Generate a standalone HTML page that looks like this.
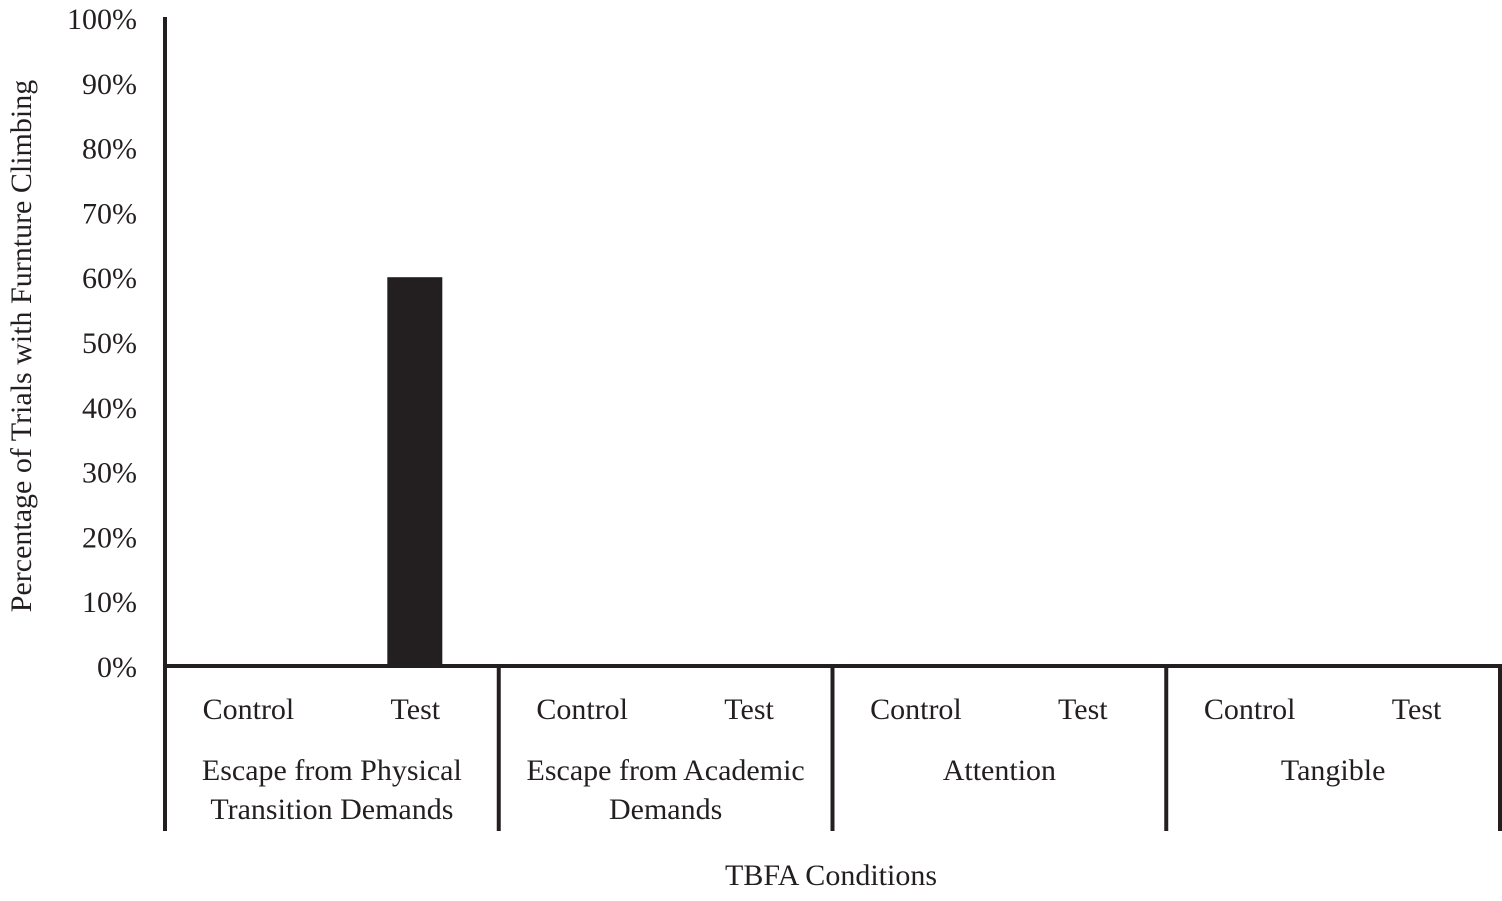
<!DOCTYPE html>
<html><head><meta charset="utf-8"><style>
body{margin:0;background:#fff;}
svg text{font-family:"Liberation Serif",serif;fill:#231f20;}
</style></head><body>
<svg width="1502" height="896" xmlns="http://www.w3.org/2000/svg">
<g id="yticks"></g>
<g id="bars"></g>
<g id="xlabels"></g>
<line x1="165" y1="17" x2="165" y2="831" stroke="#231f20" stroke-width="4"/>
<line x1="163" y1="666" x2="1502" y2="666" stroke="#231f20" stroke-width="4"/>
<text transform="translate(31,346) rotate(-90)" text-anchor="middle" font-size="30">Percentage of Trials with Furnture Climbing</text>
<text x="831" y="885" text-anchor="middle" font-size="30">TBFA Conditions</text>
<script>
const groups=[["Escape from Physical","Transition Demands"],["Escape from Academic","Demands"],["Attention"],["Tangible"]];
const subLabels=["Control","Test"];
const values=[0,60,0,0,0,0,0,0];
const yTicks=[0,10,20,30,40,50,60,70,80,90,100];
const NS="http://www.w3.org/2000/svg";
const x0=165,x1=1500,y0=666,y100=18;
const gw=(x1-x0)/groups.length;
function yS(v){return y0-(y0-y100)*v/100;}
function mk(t,a,p){const e=document.createElementNS(NS,t);for(const k in a)e.setAttribute(k,a[k]);p.appendChild(e);return e;}
const yt=document.getElementById('yticks');
yTicks.forEach(v=>{const t=mk('text',{x:137,y:yS(v)+11,'text-anchor':'end','font-size':30},yt);t.textContent=v+'%';

});
const bg=document.getElementById('bars'),xl=document.getElementById('xlabels');
groups.forEach((g,gi)=>{
 const gx=x0+gi*gw;
 subLabels.forEach((s,si)=>{
  const cx=gx+gw*(si*2+1)/4;
  const v=values[gi*2+si];
  if(v>0){const r=mk('rect',{x:cx-28,y:yS(v),width:55,height:y0-yS(v),fill:'#231f20'},bg);
  
  }
  const t=mk('text',{x:cx,y:719,'text-anchor':'middle','font-size':30},xl);t.textContent=s;
  
  
 });
 g.forEach((line,li)=>{const t=mk('text',{x:gx+gw/2,y:780+li*39,'text-anchor':'middle','font-size':30},xl);t.textContent=line;
 
 });
 const l=mk('line',{x1:gx+gw,y1:666,x2:gx+gw,y2:831,stroke:'#231f20','stroke-width':4},xl);
 
 
});
</script>
</svg>
</body></html>
